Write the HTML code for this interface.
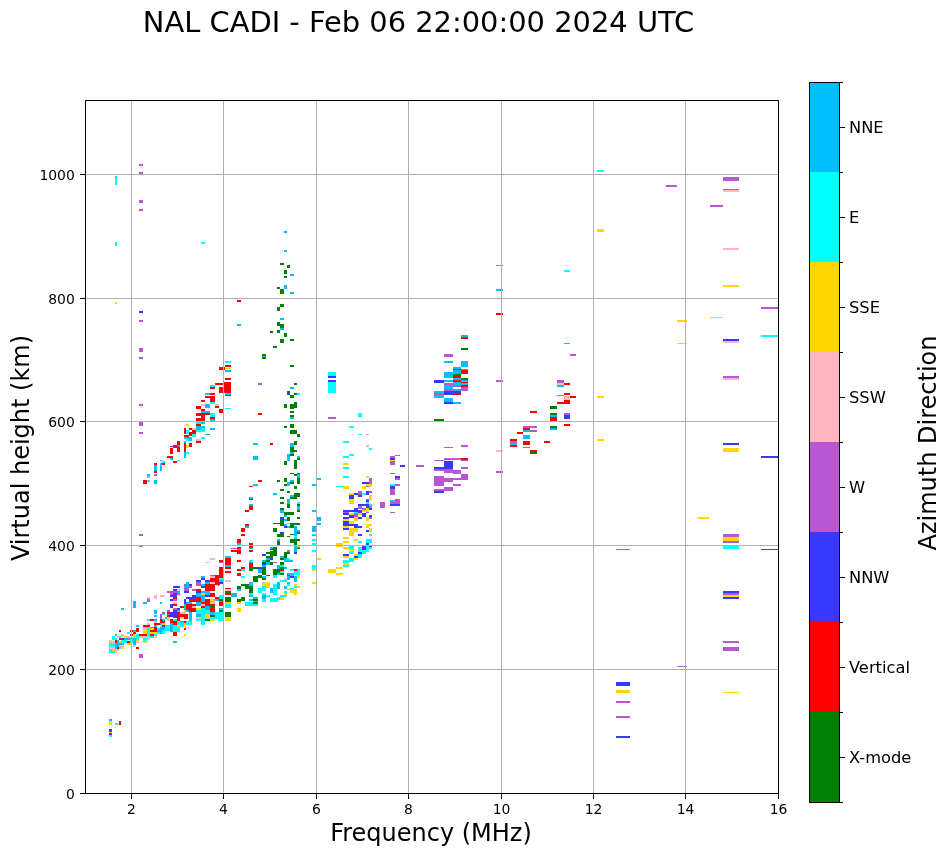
<!DOCTYPE html><html><head><meta charset="utf-8"><style>html,body{margin:0;padding:0;background:#fff;width:951px;height:856px;overflow:hidden}svg{display:block;will-change:transform}text{font-family:'DejaVu Sans', 'Liberation Sans', sans-serif;fill:#000}</style></head><body>
<svg width="951" height="856" viewBox="0 0 951 856" shape-rendering="crispEdges">
<rect x="0" y="0" width="951" height="856" fill="#fff"/>
<path fill="#00bfff" d="M115 176h2v1h-2z"/>
<path fill="#00ffff" d="M115 177h2v8h-2zM115 242h2v4h-2z"/>
<path fill="#ba55d3" d="M139 164h4v2h-4zM139 172h4v2h-4zM139 200h4v3h-4zM139 209h4v2h-4z"/>
<path fill="#ffd700" d="M115 302h2v2h-2z"/>
<path fill="#3838ff" d="M139 311h4v2h-4z"/>
<path fill="#ba55d3" d="M139 320h4v2h-4zM139 348h4v4h-4zM139 357h4v2h-4zM139 404h4v2h-4zM139 422h4v4h-4zM139 432h4v2h-4zM139 534h4v2h-4zM139 546h4v1h-4z"/>
<path fill="#ff0000" d="M143 480h4v4h-4z"/>
<path fill="#00ffff" d="M147 480h3v2h-3z"/>
<path fill="#00bfff" d="M147 474h3v2h-3z"/>
<path fill="#00ffff" d="M147 476h3v2h-3z"/>
<path fill="#00bfff" d="M154 480h3v4h-3z"/>
<path fill="#ba55d3" d="M154 474h3v2h-3z"/>
<path fill="#ff0000" d="M154 471h3v2h-3z"/>
<path fill="#00bfff" d="M154 465h3v6h-3z"/>
<path fill="#ff0000" d="M154 463h3v2h-3z"/>
<path fill="#00bfff" d="M160 466h2v5h-2z"/>
<path fill="#00ffff" d="M160 465h2v1h-2z"/>
<path fill="#00bfff" d="M160 463h2v2h-2zM160 460h2v1h-2z"/>
<path fill="#ff0000" d="M162 463h3v2h-3z"/>
<path fill="#00ffff" d="M162 461h3v2h-3z"/>
<path fill="#ff0000" d="M167 456h6v2h-6z"/>
<path fill="#00bfff" d="M170 458h3v2h-3z"/>
<path fill="#ff0000" d="M173 461h4v2h-4z"/>
<path fill="#00ffff" d="M177 460h3v1h-3z"/>
<path fill="#00bfff" d="M184 454h2v4h-2z"/>
<path fill="#00ffff" d="M225 361h6v2h-6z"/>
<path fill="#ff0000" d="M225 365h6v2h-6zM219 367h6v3h-6z"/>
<path fill="#ffd700" d="M225 368h6v1h-6z"/>
<path fill="#00bfff" d="M225 370h6v2h-6z"/>
<path fill="#ff0000" d="M225 378h6v2h-6zM224 382h7v11h-7zM215 383h8v2h-8zM219 387h4v6h-4z"/>
<path fill="#00bfff" d="M225 393h6v2h-6z"/>
<path fill="#ff0000" d="M225 395h6v1h-6z"/>
<path fill="#00ffff" d="M210 385h5v2h-5z"/>
<path fill="#ff0000" d="M210 387h5v2h-5z"/>
<path fill="#00bfff" d="M205 393h5v2h-5z"/>
<path fill="#ff0000" d="M210 393h5v2h-5zM205 396h5v2h-5zM210 396h5v6h-5zM201 400h4v2h-4z"/>
<path fill="#00ffff" d="M210 402h5v2h-5z"/>
<path fill="#ffb6c1" d="M201 404h4v2h-4z"/>
<path fill="#00bfff" d="M205 404h5v4h-5z"/>
<path fill="#ffb6c1" d="M215 404h4v2h-4z"/>
<path fill="#ff0000" d="M215 406h4v2h-4z"/>
<path fill="#00ffff" d="M225 408h6v1h-6z"/>
<path fill="#ff0000" d="M196 406h5v3h-5zM219 409h5v4h-5zM201 409h4v2h-4z"/>
<path fill="#00bfff" d="M201 411h9v2h-9z"/>
<path fill="#ff0000" d="M196 413h9v3h-9zM201 416h4v2h-4zM196 418h9v3h-9zM205 413h5v2h-5z"/>
<path fill="#00ffff" d="M210 413h5v4h-5z"/>
<path fill="#ff0000" d="M210 417h5v2h-5z"/>
<path fill="#00bfff" d="M210 419h5v2h-5z"/>
<path fill="#00ffff" d="M196 422h5v2h-5z"/>
<path fill="#00bfff" d="M201 422h4v2h-4z"/>
<path fill="#ff0000" d="M196 424h5v2h-5z"/>
<path fill="#ffd700" d="M186 424h3v2h-3z"/>
<path fill="#00bfff" d="M196 426h9v2h-9zM196 428h5v2h-5z"/>
<path fill="#00ffff" d="M201 428h4v2h-4zM196 430h9v2h-9z"/>
<path fill="#ffb6c1" d="M192 428h4v2h-4z"/>
<path fill="#ff0000" d="M189 428h3v2h-3zM184 428h2v6h-2z"/>
<path fill="#00ffff" d="M186 430h3v4h-3z"/>
<path fill="#ff0000" d="M192 430h4v4h-4zM189 432h3v4h-3zM184 435h5v2h-5z"/>
<path fill="#00ffff" d="M192 434h4v3h-4z"/>
<path fill="#00bfff" d="M205 434h5v1h-5zM210 428h5v2h-5zM184 437h8v2h-8z"/>
<path fill="#00ffff" d="M186 439h3v2h-3z"/>
<path fill="#00bfff" d="M189 439h3v2h-3z"/>
<path fill="#00ffff" d="M201 437h4v2h-4z"/>
<path fill="#ffb6c1" d="M196 439h5v2h-5z"/>
<path fill="#ff0000" d="M196 441h5v2h-5z"/>
<path fill="#00bfff" d="M184 441h2v2h-2z"/>
<path fill="#ff0000" d="M177 441h3v4h-3zM184 443h2v9h-2zM189 443h3v4h-3z"/>
<path fill="#ffd700" d="M186 445h3v3h-3z"/>
<path fill="#ff0000" d="M173 445h4v3h-4z"/>
<path fill="#ba55d3" d="M177 445h3v2h-3z"/>
<path fill="#ff0000" d="M177 447h3v5h-3z"/>
<path fill="#3838ff" d="M170 446h3v1h-3z"/>
<path fill="#ff0000" d="M170 448h3v6h-3z"/>
<path fill="#00ffff" d="M186 452h3v2h-3z"/>
<path fill="#00bfff" d="M184 452h2v6h-2zM253 456h5v4h-5zM253 484h5v2h-5z"/>
<path fill="#ff0000" d="M249 486h4v1h-4z"/>
<path fill="#00bfff" d="M249 497h4v2h-4z"/>
<path fill="#ff0000" d="M249 499h4v1h-4z"/>
<path fill="#00bfff" d="M249 504h4v2h-4z"/>
<path fill="#ff0000" d="M249 506h4v4h-4zM245 510h4v2h-4zM245 524h4v2h-4z"/>
<path fill="#00bfff" d="M245 526h4v2h-4z"/>
<path fill="#ff0000" d="M241 528h4v4h-4zM241 534h4v2h-4zM237 539h4v4h-4z"/>
<path fill="#00bfff" d="M237 543h4v2h-4z"/>
<path fill="#ff0000" d="M249 543h4v2h-4zM249 546h4v2h-4z"/>
<path fill="#00bfff" d="M249 548h4v1h-4z"/>
<path fill="#ff0000" d="M249 550h4v2h-4zM237 547h4v2h-4z"/>
<path fill="#00bfff" d="M237 549h4v1h-4z"/>
<path fill="#ff0000" d="M237 550h4v4h-4z"/>
<path fill="#ba55d3" d="M231 548h6v1h-6z"/>
<path fill="#ff0000" d="M231 550h6v2h-6z"/>
<path fill="#008000" d="M290 365h4v2h-4z"/>
<path fill="#ba55d3" d="M258 383h4v2h-4z"/>
<path fill="#008000" d="M294 383h3v2h-3z"/>
<path fill="#00bfff" d="M290 387h4v2h-4z"/>
<path fill="#008000" d="M287 391h3v2h-3z"/>
<path fill="#3838ff" d="M287 393h3v2h-3z"/>
<path fill="#008000" d="M294 393h3v2h-3z"/>
<path fill="#00ffff" d="M297 393h3v2h-3z"/>
<path fill="#008000" d="M290 395h4v3h-4zM284 404h3v4h-3zM294 402h3v6h-3zM290 404h4v5h-4zM290 411h4v2h-4z"/>
<path fill="#ff0000" d="M258 413h4v2h-4z"/>
<path fill="#008000" d="M290 415h4v2h-4z"/>
<path fill="#00bfff" d="M290 417h4v2h-4z"/>
<path fill="#008000" d="M290 424h4v4h-4zM284 426h3v2h-3zM290 430h7v4h-7zM297 434h3v3h-3z"/>
<path fill="#00bfff" d="M253 443h5v2h-5z"/>
<path fill="#ff0000" d="M270 443h3v2h-3z"/>
<path fill="#008000" d="M294 441h3v4h-3z"/>
<path fill="#00bfff" d="M290 443h4v4h-4z"/>
<path fill="#008000" d="M290 447h4v5h-4zM294 450h3v2h-3z"/>
<path fill="#00bfff" d="M290 452h4v2h-4z"/>
<path fill="#008000" d="M290 454h4v2h-4z"/>
<path fill="#00bfff" d="M287 454h3v6h-3zM297 456h3v2h-3z"/>
<path fill="#008000" d="M297 458h3v2h-3z"/>
<path fill="#00bfff" d="M284 231h3v2h-3zM284 250h3v2h-3z"/>
<path fill="#008000" d="M280 263h4v2h-4zM287 265h3v3h-3zM284 270h3v4h-3z"/>
<path fill="#00bfff" d="M290 274h4v2h-4z"/>
<path fill="#008000" d="M284 276h3v2h-3zM277 287h3v2h-3z"/>
<path fill="#00bfff" d="M284 285h3v4h-3z"/>
<path fill="#008000" d="M280 289h4v5h-4z"/>
<path fill="#00bfff" d="M290 292h4v2h-4zM237 298h4v1h-4z"/>
<path fill="#ff0000" d="M237 300h4v2h-4z"/>
<path fill="#008000" d="M280 304h4v3h-4zM277 307h3v4h-3z"/>
<path fill="#00bfff" d="M280 318h4v2h-4zM237 324h4v2h-4z"/>
<path fill="#008000" d="M277 322h3v4h-3zM280 324h4v4h-4z"/>
<path fill="#00bfff" d="M280 328h4v2h-4z"/>
<path fill="#008000" d="M270 331h3v2h-3zM277 330h3v3h-3zM284 333h3v4h-3zM280 339h4v4h-4zM290 339h4v2h-4zM273 346h4v2h-4zM262 354h4v2h-4z"/>
<path fill="#00bfff" d="M262 356h4v1h-4z"/>
<path fill="#008000" d="M262 357h4v2h-4z"/>
<path fill="#00ffff" d="M201 242h4v2h-4z"/>
<path fill="#00bfff" d="M115 634h2v2h-2z"/>
<path fill="#00ffff" d="M112 636h3v3h-3zM112 638h5v2h-5z"/>
<path fill="#ffb6c1" d="M117 636h2v2h-2z"/>
<path fill="#00ffff" d="M119 636h2v2h-2z"/>
<path fill="#ffb6c1" d="M121 634h3v3h-3z"/>
<path fill="#ffd700" d="M124 636h3v2h-3z"/>
<path fill="#ffb6c1" d="M127 636h3v2h-3z"/>
<path fill="#00ffff" d="M127 632h3v2h-3z"/>
<path fill="#ff0000" d="M119 630h2v2h-2zM130 630h3v2h-3zM130 634h3v2h-3z"/>
<path fill="#00bfff" d="M133 630h3v2h-3z"/>
<path fill="#ff0000" d="M133 632h3v2h-3z"/>
<path fill="#ffd700" d="M133 634h3v4h-3z"/>
<path fill="#00ffff" d="M136 634h3v6h-3z"/>
<path fill="#ff0000" d="M136 628h3v4h-3z"/>
<path fill="#00bfff" d="M136 625h3v2h-3z"/>
<path fill="#ffd700" d="M136 640h3v1h-3z"/>
<path fill="#ffb6c1" d="M136 641h3v2h-3z"/>
<path fill="#00bfff" d="M133 638h3v7h-3z"/>
<path fill="#ff0000" d="M136 647h3v2h-3z"/>
<path fill="#ffb6c1" d="M133 645h3v2h-3z"/>
<path fill="#00ffff" d="M130 637h3v6h-3z"/>
<path fill="#ba55d3" d="M127 638h3v2h-3z"/>
<path fill="#00bfff" d="M124 638h3v2h-3z"/>
<path fill="#3838ff" d="M121 638h3v2h-3z"/>
<path fill="#ff0000" d="M119 638h2v2h-2z"/>
<path fill="#00ffff" d="M124 640h3v3h-3z"/>
<path fill="#ff0000" d="M127 641h3v2h-3z"/>
<path fill="#ffd700" d="M127 643h4v2h-4z"/>
<path fill="#00bfff" d="M117 640h2v3h-2z"/>
<path fill="#ffd700" d="M119 641h2v2h-2z"/>
<path fill="#00ffff" d="M121 640h3v3h-3z"/>
<path fill="#ff0000" d="M115 640h2v3h-2z"/>
<path fill="#ffb6c1" d="M112 641h3v3h-3z"/>
<path fill="#ffd700" d="M109 641h3v2h-3z"/>
<path fill="#ffb6c1" d="M109 640h3v1h-3z"/>
<path fill="#00ffff" d="M109 643h3v4h-3zM112 644h3v3h-3z"/>
<path fill="#00bfff" d="M115 643h9v2h-9zM115 645h4v2h-4z"/>
<path fill="#ffb6c1" d="M119 645h5v2h-5zM109 647h6v2h-6z"/>
<path fill="#00bfff" d="M115 647h2v2h-2z"/>
<path fill="#ff0000" d="M117 647h2v2h-2z"/>
<path fill="#00ffff" d="M119 647h2v2h-2z"/>
<path fill="#ffd700" d="M121 647h3v2h-3z"/>
<path fill="#00ffff" d="M109 649h3v4h-3z"/>
<path fill="#ffd700" d="M112 649h3v2h-3z"/>
<path fill="#00ffff" d="M112 651h3v2h-3z"/>
<path fill="#ffb6c1" d="M115 649h4v2h-4z"/>
<path fill="#ffd700" d="M115 651h2v2h-2z"/>
<path fill="#ba55d3" d="M139 654h4v4h-4z"/>
<path fill="#00bfff" d="M121 608h3v2h-3zM133 601h3v7h-3zM143 602h4v2h-4z"/>
<path fill="#ba55d3" d="M147 600h3v2h-3z"/>
<path fill="#00bfff" d="M154 610h3v4h-3zM154 615h3v2h-3z"/>
<path fill="#00ffff" d="M147 619h3v2h-3z"/>
<path fill="#ff0000" d="M150 619h4v2h-4z"/>
<path fill="#00bfff" d="M154 619h3v2h-3z"/>
<path fill="#ffb6c1" d="M154 621h3v2h-3zM147 623h3v2h-3z"/>
<path fill="#ff0000" d="M143 625h7v2h-7z"/>
<path fill="#00bfff" d="M154 625h3v2h-3z"/>
<path fill="#ff0000" d="M154 623h6v2h-6z"/>
<path fill="#00ffff" d="M143 627h4v2h-4z"/>
<path fill="#ffb6c1" d="M143 628h4v2h-4z"/>
<path fill="#00ffff" d="M147 627h3v10h-3z"/>
<path fill="#ffd700" d="M143 630h4v4h-4zM150 628h4v2h-4z"/>
<path fill="#ff0000" d="M154 627h3v5h-3zM150 630h7v2h-7z"/>
<path fill="#00bfff" d="M150 627h4v1h-4z"/>
<path fill="#ffd700" d="M150 632h7v2h-7z"/>
<path fill="#00ffff" d="M157 628h3v6h-3z"/>
<path fill="#00bfff" d="M157 630h3v2h-3z"/>
<path fill="#ff0000" d="M139 634h8v2h-8z"/>
<path fill="#ffd700" d="M143 632h4v2h-4z"/>
<path fill="#ff0000" d="M150 634h4v2h-4z"/>
<path fill="#00ffff" d="M154 634h3v2h-3z"/>
<path fill="#ffb6c1" d="M139 636h8v2h-8zM147 637h3v3h-3z"/>
<path fill="#00ffff" d="M150 636h4v2h-4z"/>
<path fill="#ffb6c1" d="M154 636h3v2h-3z"/>
<path fill="#00ffff" d="M143 638h4v3h-4z"/>
<path fill="#ffd700" d="M143 641h4v2h-4z"/>
<path fill="#ffb6c1" d="M160 595h5v2h-5z"/>
<path fill="#00bfff" d="M160 602h2v2h-2z"/>
<path fill="#ba55d3" d="M160 614h2v5h-2z"/>
<path fill="#ff0000" d="M160 619h2v4h-2z"/>
<path fill="#00bfff" d="M160 623h2v2h-2z"/>
<path fill="#ffb6c1" d="M160 625h2v2h-2z"/>
<path fill="#00bfff" d="M160 627h2v7h-2z"/>
<path fill="#ba55d3" d="M162 612h3v2h-3z"/>
<path fill="#00ffff" d="M162 614h3v1h-3z"/>
<path fill="#00bfff" d="M162 619h3v2h-3z"/>
<path fill="#ff0000" d="M162 621h3v2h-3z"/>
<path fill="#ffd700" d="M162 623h3v2h-3z"/>
<path fill="#3838ff" d="M162 625h3v2h-3z"/>
<path fill="#00bfff" d="M162 627h3v3h-3z"/>
<path fill="#00ffff" d="M162 630h3v4h-3z"/>
<path fill="#00bfff" d="M165 617h2v2h-2z"/>
<path fill="#ba55d3" d="M167 610h3v2h-3z"/>
<path fill="#ff0000" d="M167 612h3v2h-3z"/>
<path fill="#ba55d3" d="M167 614h3v1h-3z"/>
<path fill="#ff0000" d="M167 615h3v2h-3z"/>
<path fill="#ffd700" d="M167 617h3v2h-3z"/>
<path fill="#ffb6c1" d="M167 619h3v2h-3z"/>
<path fill="#00ffff" d="M165 625h5v6h-5z"/>
<path fill="#00bfff" d="M170 623h3v9h-3z"/>
<path fill="#3838ff" d="M173 586h7v2h-7z"/>
<path fill="#ba55d3" d="M167 591h10v2h-10z"/>
<path fill="#3838ff" d="M173 589h4v2h-4z"/>
<path fill="#ffb6c1" d="M177 589h3v2h-3z"/>
<path fill="#00bfff" d="M177 591h3v2h-3z"/>
<path fill="#ba55d3" d="M177 593h3v2h-3z"/>
<path fill="#3838ff" d="M173 593h4v4h-4z"/>
<path fill="#ba55d3" d="M170 593h3v2h-3z"/>
<path fill="#3838ff" d="M170 595h3v2h-3z"/>
<path fill="#ff0000" d="M173 597h4v2h-4z"/>
<path fill="#3838ff" d="M170 599h3v2h-3z"/>
<path fill="#ba55d3" d="M173 599h4v2h-4z"/>
<path fill="#ffb6c1" d="M173 602h4v2h-4z"/>
<path fill="#3838ff" d="M170 604h3v4h-3z"/>
<path fill="#ff0000" d="M173 604h4v2h-4z"/>
<path fill="#ba55d3" d="M173 608h4v2h-4z"/>
<path fill="#3838ff" d="M173 610h4v8h-4zM170 612h3v5h-3zM177 608h3v2h-3z"/>
<path fill="#00bfff" d="M177 610h3v2h-3z"/>
<path fill="#ff0000" d="M177 612h3v2h-3z"/>
<path fill="#00ffff" d="M173 619h4v2h-4z"/>
<path fill="#ff0000" d="M170 619h3v4h-3zM173 621h4v4h-4z"/>
<path fill="#00ffff" d="M173 625h7v7h-7z"/>
<path fill="#ff0000" d="M173 632h4v4h-4z"/>
<path fill="#00bfff" d="M173 641h4v2h-4z"/>
<path fill="#ff0000" d="M177 614h11v5h-11z"/>
<path fill="#ffb6c1" d="M180 617h4v2h-4z"/>
<path fill="#ff0000" d="M177 619h3v2h-3z"/>
<path fill="#00ffff" d="M177 621h7v6h-7z"/>
<path fill="#ffd700" d="M177 625h3v2h-3z"/>
<path fill="#00bfff" d="M180 621h4v2h-4z"/>
<path fill="#ff0000" d="M180 606h4v2h-4z"/>
<path fill="#ffb6c1" d="M180 612h6v2h-6z"/>
<path fill="#ff0000" d="M184 621h2v2h-2z"/>
<path fill="#ffd700" d="M184 623h2v4h-2zM186 627h3v1h-3z"/>
<path fill="#ff0000" d="M184 628h2v2h-2z"/>
<path fill="#ffd700" d="M184 634h2v2h-2z"/>
<path fill="#ba55d3" d="M184 584h2v2h-2z"/>
<path fill="#00bfff" d="M184 586h5v2h-5z"/>
<path fill="#ba55d3" d="M184 588h5v3h-5z"/>
<path fill="#3838ff" d="M184 591h5v2h-5zM184 599h2v5h-2z"/>
<path fill="#00bfff" d="M184 604h2v6h-2z"/>
<path fill="#ffd700" d="M184 610h2v2h-2z"/>
<path fill="#00bfff" d="M186 582h3v4h-3z"/>
<path fill="#ba55d3" d="M189 584h3v4h-3z"/>
<path fill="#3838ff" d="M189 584h3v2h-3zM186 597h10v2h-10zM192 595h4v2h-4z"/>
<path fill="#ba55d3" d="M192 589h4v2h-4z"/>
<path fill="#00bfff" d="M186 602h6v2h-6z"/>
<path fill="#ff0000" d="M189 599h7v3h-7zM186 604h10v8h-10z"/>
<path fill="#00bfff" d="M186 610h3v2h-3zM189 612h3v9h-3z"/>
<path fill="#ffb6c1" d="M192 606h4v2h-4z"/>
<path fill="#00ffff" d="M186 621h6v4h-6z"/>
<path fill="#ff0000" d="M196 589h5v2h-5z"/>
<path fill="#3838ff" d="M196 591h5v2h-5z"/>
<path fill="#00bfff" d="M196 593h5v4h-5z"/>
<path fill="#ff0000" d="M196 597h5v5h-5z"/>
<path fill="#00bfff" d="M196 602h5v4h-5z"/>
<path fill="#ffd700" d="M196 608h5v2h-5z"/>
<path fill="#00ffff" d="M196 610h5v4h-5z"/>
<path fill="#00bfff" d="M196 614h5v3h-5z"/>
<path fill="#ffb6c1" d="M196 617h5v2h-5z"/>
<path fill="#00ffff" d="M196 619h5v2h-5z"/>
<path fill="#ba55d3" d="M196 582h5v4h-5z"/>
<path fill="#3838ff" d="M196 580h5v2h-5z"/>
<path fill="#00bfff" d="M201 584h4v2h-4z"/>
<path fill="#3838ff" d="M201 586h4v2h-4z"/>
<path fill="#00bfff" d="M201 591h4v2h-4z"/>
<path fill="#ffd700" d="M201 593h4v2h-4z"/>
<path fill="#00bfff" d="M201 595h4v7h-4z"/>
<path fill="#ff0000" d="M201 602h4v2h-4z"/>
<path fill="#ffb6c1" d="M201 604h4v2h-4z"/>
<path fill="#ff0000" d="M201 606h4v2h-4z"/>
<path fill="#00ffff" d="M201 608h4v9h-4zM201 617h4v8h-4z"/>
<path fill="#3838ff" d="M205 580h5v2h-5z"/>
<path fill="#00bfff" d="M205 582h5v2h-5z"/>
<path fill="#ff0000" d="M205 584h5v7h-5z"/>
<path fill="#00bfff" d="M205 591h5v4h-5z"/>
<path fill="#3838ff" d="M205 595h5v2h-5z"/>
<path fill="#ff0000" d="M205 599h5v7h-5z"/>
<path fill="#00bfff" d="M205 606h5v4h-5z"/>
<path fill="#00ffff" d="M205 610h5v4h-5z"/>
<path fill="#ffd700" d="M205 614h5v3h-5z"/>
<path fill="#ffb6c1" d="M205 617h5v2h-5z"/>
<path fill="#008000" d="M205 619h5v2h-5z"/>
<path fill="#ff0000" d="M210 580h5v2h-5z"/>
<path fill="#ffb6c1" d="M210 582h5v2h-5z"/>
<path fill="#ff0000" d="M210 584h5v7h-5zM210 593h5v4h-5z"/>
<path fill="#ffd700" d="M210 599h5v2h-5z"/>
<path fill="#00ffff" d="M210 601h5v1h-5z"/>
<path fill="#ffb6c1" d="M210 602h5v2h-5z"/>
<path fill="#ff0000" d="M210 604h5v2h-5z"/>
<path fill="#008000" d="M210 606h5v2h-5z"/>
<path fill="#ff0000" d="M210 608h5v4h-5z"/>
<path fill="#00bfff" d="M210 612h5v3h-5z"/>
<path fill="#008000" d="M210 615h5v2h-5z"/>
<path fill="#00ffff" d="M210 617h5v2h-5z"/>
<path fill="#ffd700" d="M210 619h5v2h-5z"/>
<path fill="#ff0000" d="M215 580h5v5h-5zM215 597h4v2h-4z"/>
<path fill="#00bfff" d="M215 599h4v2h-4z"/>
<path fill="#00ffff" d="M215 612h5v7h-5z"/>
<path fill="#ff0000" d="M219 560h4v2h-4z"/>
<path fill="#ba55d3" d="M219 562h4v1h-4z"/>
<path fill="#ff0000" d="M219 567h4v11h-4z"/>
<path fill="#00ffff" d="M219 578h4v2h-4z"/>
<path fill="#00bfff" d="M219 580h4v2h-4z"/>
<path fill="#3838ff" d="M219 582h4v2h-4z"/>
<path fill="#ff0000" d="M218 578h1v8h-1z"/>
<path fill="#00ffff" d="M219 595h4v4h-4z"/>
<path fill="#008000" d="M219 599h4v2h-4z"/>
<path fill="#ba55d3" d="M219 601h4v1h-4z"/>
<path fill="#ff0000" d="M219 602h4v4h-4z"/>
<path fill="#00bfff" d="M219 608h4v2h-4z"/>
<path fill="#008000" d="M219 610h4v2h-4z"/>
<path fill="#00ffff" d="M218 612h5v9h-5z"/>
<path fill="#ff0000" d="M225 560h6v5h-6z"/>
<path fill="#00bfff" d="M225 565h6v2h-6z"/>
<path fill="#ff0000" d="M225 567h6v2h-6zM225 571h6v2h-6z"/>
<path fill="#ffb6c1" d="M225 580h6v2h-6z"/>
<path fill="#ff0000" d="M225 588h6v1h-6z"/>
<path fill="#ffb6c1" d="M225 589h6v2h-6z"/>
<path fill="#008000" d="M225 591h6v2h-6z"/>
<path fill="#ff0000" d="M225 593h6v2h-6z"/>
<path fill="#008000" d="M225 597h6v5h-6z"/>
<path fill="#ffd700" d="M225 602h6v2h-6z"/>
<path fill="#00ffff" d="M225 604h6v4h-6z"/>
<path fill="#008000" d="M225 612h6v5h-6z"/>
<path fill="#ffd700" d="M225 617h6v4h-6z"/>
<path fill="#00bfff" d="M231 593h6v4h-6z"/>
<path fill="#ff0000" d="M237 560h4v2h-4zM237 569h4v2h-4zM237 573h4v3h-4z"/>
<path fill="#008000" d="M237 586h4v3h-4z"/>
<path fill="#00bfff" d="M237 589h4v2h-4z"/>
<path fill="#008000" d="M237 599h4v3h-4z"/>
<path fill="#ffd700" d="M237 602h4v2h-4zM237 608h4v4h-4z"/>
<path fill="#ff0000" d="M241 567h4v2h-4z"/>
<path fill="#00ffff" d="M241 569h4v2h-4zM241 576h4v2h-4z"/>
<path fill="#008000" d="M241 584h8v2h-8zM241 597h4v4h-4zM245 586h4v3h-4zM249 586h4v7h-4z"/>
<path fill="#00ffff" d="M245 602h13v4h-13zM249 560h4v2h-4z"/>
<path fill="#00bfff" d="M249 562h4v1h-4z"/>
<path fill="#ff0000" d="M249 563h4v4h-4z"/>
<path fill="#008000" d="M249 567h4v4h-4z"/>
<path fill="#00bfff" d="M249 582h4v4h-4z"/>
<path fill="#00ffff" d="M249 593h4v2h-4z"/>
<path fill="#00bfff" d="M249 595h4v2h-4zM249 599h4v2h-4z"/>
<path fill="#008000" d="M253 567h5v2h-5zM253 576h5v6h-5z"/>
<path fill="#00bfff" d="M253 597h5v2h-5z"/>
<path fill="#008000" d="M253 599h5v2h-5z"/>
<path fill="#00bfff" d="M253 601h5v1h-5z"/>
<path fill="#008000" d="M253 602h5v2h-5z"/>
<path fill="#3838ff" d="M258 567h4v2h-4z"/>
<path fill="#00bfff" d="M258 569h4v4h-4z"/>
<path fill="#008000" d="M258 575h4v3h-4z"/>
<path fill="#00ffff" d="M258 588h4v5h-4z"/>
<path fill="#00bfff" d="M262 560h4v2h-4z"/>
<path fill="#3838ff" d="M262 563h4v2h-4z"/>
<path fill="#00bfff" d="M262 565h4v2h-4z"/>
<path fill="#008000" d="M262 567h4v8h-4z"/>
<path fill="#00bfff" d="M262 576h4v2h-4z"/>
<path fill="#008000" d="M262 578h4v2h-4z"/>
<path fill="#ffb6c1" d="M262 582h4v2h-4z"/>
<path fill="#ffd700" d="M262 584h4v2h-4z"/>
<path fill="#00ffff" d="M262 586h4v5h-4zM262 593h4v2h-4z"/>
<path fill="#00bfff" d="M262 595h4v4h-4z"/>
<path fill="#00ffff" d="M262 599h4v3h-4z"/>
<path fill="#008000" d="M266 560h4v2h-4z"/>
<path fill="#00bfff" d="M266 562h4v3h-4z"/>
<path fill="#008000" d="M266 575h4v1h-4z"/>
<path fill="#ffd700" d="M266 582h4v6h-4z"/>
<path fill="#00ffff" d="M266 595h4v2h-4z"/>
<path fill="#008000" d="M270 562h3v3h-3z"/>
<path fill="#ba55d3" d="M273 562h3v1h-3z"/>
<path fill="#00bfff" d="M270 588h3v5h-3z"/>
<path fill="#00ffff" d="M273 590h4v5h-4zM273 584h5v4h-5zM270 599h8v3h-8zM273 575h4v3h-4z"/>
<path fill="#008000" d="M273 569h5v6h-5z"/>
<path fill="#00bfff" d="M277 565h1v9h-1z"/>
<path fill="#008000" d="M280 520h4v6h-4zM273 523h7v1h-7z"/>
<path fill="#00bfff" d="M284 520h3v1h-3z"/>
<path fill="#008000" d="M287 520h3v1h-3z"/>
<path fill="#00bfff" d="M284 524h3v2h-3z"/>
<path fill="#3838ff" d="M284 526h3v2h-3z"/>
<path fill="#00bfff" d="M287 526h3v2h-3z"/>
<path fill="#00ffff" d="M287 523h3v1h-3z"/>
<path fill="#008000" d="M290 524h4v4h-4zM294 523h6v2h-6z"/>
<path fill="#3838ff" d="M294 523h3v1h-3z"/>
<path fill="#00bfff" d="M294 526h3v13h-3zM297 530h3v2h-3z"/>
<path fill="#008000" d="M297 532h3v2h-3zM273 528h4v4h-4z"/>
<path fill="#3838ff" d="M280 532h4v2h-4z"/>
<path fill="#008000" d="M277 534h7v3h-7zM287 536h3v1h-3zM290 534h4v1h-4z"/>
<path fill="#00ffff" d="M294 536h3v2h-3z"/>
<path fill="#00bfff" d="M277 539h3v2h-3z"/>
<path fill="#008000" d="M277 541h3v2h-3z"/>
<path fill="#3838ff" d="M277 543h3v2h-3z"/>
<path fill="#008000" d="M290 539h4v4h-4zM294 539h6v2h-6zM294 541h3v4h-3z"/>
<path fill="#00bfff" d="M294 546h3v6h-3z"/>
<path fill="#ffd700" d="M297 546h3v1h-3z"/>
<path fill="#00bfff" d="M297 547h3v2h-3z"/>
<path fill="#008000" d="M297 548h3v1h-3z"/>
<path fill="#3838ff" d="M294 552h3v2h-3z"/>
<path fill="#00bfff" d="M270 547h3v1h-3z"/>
<path fill="#008000" d="M273 547h4v9h-4zM270 551h3v6h-3z"/>
<path fill="#3838ff" d="M270 558h3v2h-3z"/>
<path fill="#ba55d3" d="M287 550h3v2h-3z"/>
<path fill="#008000" d="M284 552h6v2h-6zM284 554h3v4h-3z"/>
<path fill="#00bfff" d="M280 556h4v2h-4z"/>
<path fill="#008000" d="M280 558h4v2h-4z"/>
<path fill="#00bfff" d="M284 558h3v2h-3z"/>
<path fill="#00ffff" d="M287 558h3v2h-3z"/>
<path fill="#00bfff" d="M284 560h9v2h-9z"/>
<path fill="#ba55d3" d="M273 562h4v1h-4z"/>
<path fill="#008000" d="M270 562h3v3h-3zM280 562h4v3h-4z"/>
<path fill="#00bfff" d="M277 565h3v4h-3z"/>
<path fill="#00ffff" d="M280 565h4v2h-4z"/>
<path fill="#008000" d="M280 567h4v2h-4z"/>
<path fill="#00bfff" d="M284 567h3v2h-3z"/>
<path fill="#008000" d="M273 569h7v6h-7z"/>
<path fill="#ff0000" d="M280 569h4v2h-4z"/>
<path fill="#00ffff" d="M280 571h4v2h-4z"/>
<path fill="#00bfff" d="M277 573h3v2h-3z"/>
<path fill="#008000" d="M280 573h4v2h-4z"/>
<path fill="#00ffff" d="M273 575h4v3h-4zM290 569h4v2h-4z"/>
<path fill="#ff0000" d="M294 569h3v2h-3z"/>
<path fill="#00ffff" d="M297 569h3v2h-3z"/>
<path fill="#00bfff" d="M287 573h7v4h-7z"/>
<path fill="#00ffff" d="M294 571h6v4h-6z"/>
<path fill="#008000" d="M287 575h3v1h-3z"/>
<path fill="#3838ff" d="M290 576h4v2h-4z"/>
<path fill="#ffd700" d="M297 575h3v3h-3z"/>
<path fill="#00bfff" d="M287 576h3v4h-3zM294 576h3v6h-3z"/>
<path fill="#ffb6c1" d="M284 578h3v2h-3z"/>
<path fill="#00ffff" d="M280 580h7v2h-7z"/>
<path fill="#00bfff" d="M287 582h3v2h-3z"/>
<path fill="#00ffff" d="M287 584h3v2h-3z"/>
<path fill="#00bfff" d="M277 582h3v7h-3z"/>
<path fill="#00ffff" d="M273 584h4v5h-4z"/>
<path fill="#00bfff" d="M270 588h3v4h-3z"/>
<path fill="#00ffff" d="M273 589h4v4h-4z"/>
<path fill="#00bfff" d="M284 586h3v3h-3z"/>
<path fill="#00ffff" d="M287 589h3v1h-3z"/>
<path fill="#ffd700" d="M294 584h3v2h-3zM297 586h3v2h-3z"/>
<path fill="#00ffff" d="M294 586h3v2h-3zM290 588h4v1h-4z"/>
<path fill="#ffd700" d="M290 589h7v4h-7zM294 593h3v2h-3z"/>
<path fill="#00ffff" d="M284 591h3v2h-3z"/>
<path fill="#ffd700" d="M284 593h3v2h-3z"/>
<path fill="#00ffff" d="M280 595h7v2h-7zM277 597h3v3h-3z"/>
<path fill="#ffd700" d="M280 597h4v3h-4z"/>
<path fill="#00ffff" d="M270 598h7v2h-7z"/>
<path fill="#00bfff" d="M312 526h4v6h-4z"/>
<path fill="#00ffff" d="M312 534h4v1h-4z"/>
<path fill="#00bfff" d="M312 535h4v1h-4z"/>
<path fill="#00ffff" d="M312 539h4v2h-4zM312 543h4v2h-4zM312 550h4v2h-4zM312 565h4v4h-4z"/>
<path fill="#ffd700" d="M312 569h4v2h-4zM312 582h4v2h-4z"/>
<path fill="#00bfff" d="M317 520h4v1h-4zM317 523h4v2h-4z"/>
<path fill="#ffd700" d="M317 558h4v2h-4zM328 569h2v4h-2z"/>
<path fill="#00bfff" d="M287 455h3v6h-3z"/>
<path fill="#008000" d="M290 455h4v1h-4z"/>
<path fill="#00bfff" d="M297 456h3v2h-3z"/>
<path fill="#008000" d="M297 458h3v2h-3zM284 461h3v4h-3zM294 460h3v9h-3zM290 473h4v1h-4zM297 473h3v1h-3zM294 474h3v2h-3z"/>
<path fill="#00bfff" d="M297 474h3v4h-3z"/>
<path fill="#008000" d="M277 480h3v2h-3zM284 478h3v4h-3z"/>
<path fill="#00bfff" d="M290 480h4v2h-4z"/>
<path fill="#008000" d="M297 478h3v6h-3z"/>
<path fill="#00bfff" d="M287 482h3v4h-3z"/>
<path fill="#008000" d="M290 482h4v2h-4zM284 484h3v2h-3z"/>
<path fill="#00bfff" d="M312 484h4v2h-4zM317 478h4v2h-4z"/>
<path fill="#00ffff" d="M336 486h2v1h-2z"/>
<path fill="#008000" d="M294 486h3v3h-3zM280 489h4v2h-4zM287 491h3v2h-3z"/>
<path fill="#00bfff" d="M273 493h4v2h-4z"/>
<path fill="#008000" d="M294 493h6v4h-6z"/>
<path fill="#00bfff" d="M290 495h4v2h-4z"/>
<path fill="#008000" d="M290 497h7v2h-7zM280 497h4v2h-4z"/>
<path fill="#00bfff" d="M287 499h3v5h-3z"/>
<path fill="#008000" d="M280 502h4v2h-4z"/>
<path fill="#00ffff" d="M297 502h3v2h-3z"/>
<path fill="#008000" d="M297 504h3v2h-3zM287 504h3v4h-3z"/>
<path fill="#00bfff" d="M297 506h3v4h-3z"/>
<path fill="#008000" d="M280 508h4v2h-4zM297 510h3v2h-3z"/>
<path fill="#00bfff" d="M280 510h4v3h-4zM312 510h4v2h-4z"/>
<path fill="#008000" d="M284 512h10v3h-10z"/>
<path fill="#00bfff" d="M284 515h3v2h-3z"/>
<path fill="#3838ff" d="M280 517h4v2h-4z"/>
<path fill="#008000" d="M287 517h3v4h-3zM297 517h3v2h-3z"/>
<path fill="#00bfff" d="M317 517h4v4h-4z"/>
<path fill="#008000" d="M280 519h4v6h-4z"/>
<path fill="#00bfff" d="M284 519h3v2h-3z"/>
<path fill="#008000" d="M290 523h10v2h-10z"/>
<path fill="#3838ff" d="M294 523h3v1h-3zM328 380h8v2h-8z"/>
<path fill="#00ffff" d="M328 382h8v11h-8z"/>
<path fill="#ba55d3" d="M328 417h8v2h-8z"/>
<path fill="#00ffff" d="M358 413h4v4h-4zM349 426h5v2h-5zM358 434h4v1h-4z"/>
<path fill="#ffb6c1" d="M366 434h3v1h-3z"/>
<path fill="#00ffff" d="M343 441h6v2h-6z"/>
<path fill="#ffb6c1" d="M366 445h3v2h-3z"/>
<path fill="#00ffff" d="M369 448h3v2h-3zM349 454h5v2h-5zM343 456h6v2h-6zM328 372h8v4h-8z"/>
<path fill="#3838ff" d="M328 376h8v2h-8z"/>
<path fill="#00ffff" d="M349 455h5v1h-5z"/>
<path fill="#ffd700" d="M343 463h6v2h-6z"/>
<path fill="#00ffff" d="M343 467h6v2h-6zM343 476h6v2h-6zM336 486h7v1h-7z"/>
<path fill="#ffd700" d="M343 486h6v3h-6zM366 476h3v2h-3z"/>
<path fill="#ba55d3" d="M369 478h3v6h-3z"/>
<path fill="#3838ff" d="M362 482h7v2h-7z"/>
<path fill="#ffd700" d="M366 484h6v3h-6z"/>
<path fill="#ba55d3" d="M366 486h3v1h-3z"/>
<path fill="#ffd700" d="M362 486h4v3h-4z"/>
<path fill="#ba55d3" d="M358 491h4v4h-4z"/>
<path fill="#3838ff" d="M366 491h3v4h-3z"/>
<path fill="#ba55d3" d="M369 491h3v2h-3z"/>
<path fill="#00ffff" d="M362 493h4v2h-4z"/>
<path fill="#ffd700" d="M349 493h5v2h-5z"/>
<path fill="#3838ff" d="M354 493h4v2h-4zM358 495h4v2h-4zM349 495h5v4h-5z"/>
<path fill="#ffd700" d="M369 495h3v5h-3zM349 499h5v5h-5z"/>
<path fill="#ba55d3" d="M366 499h3v1h-3z"/>
<path fill="#3838ff" d="M366 500h3v2h-3z"/>
<path fill="#00ffff" d="M366 502h3v2h-3z"/>
<path fill="#3838ff" d="M358 504h11v2h-11z"/>
<path fill="#00ffff" d="M369 504h3v2h-3z"/>
<path fill="#ba55d3" d="M369 506h3v2h-3z"/>
<path fill="#3838ff" d="M366 506h3v2h-3z"/>
<path fill="#ba55d3" d="M358 506h4v3h-4zM362 508h4v2h-4z"/>
<path fill="#ffd700" d="M366 508h3v3h-3z"/>
<path fill="#3838ff" d="M369 508h3v2h-3zM354 508h4v2h-4zM343 510h19v2h-19z"/>
<path fill="#ffd700" d="M362 510h7v2h-7z"/>
<path fill="#ba55d3" d="M343 512h6v1h-6z"/>
<path fill="#00ffff" d="M354 512h4v1h-4z"/>
<path fill="#3838ff" d="M358 512h4v1h-4z"/>
<path fill="#ba55d3" d="M366 512h3v1h-3z"/>
<path fill="#3838ff" d="M343 513h6v2h-6z"/>
<path fill="#ffd700" d="M349 513h5v2h-5z"/>
<path fill="#ba55d3" d="M354 513h4v4h-4z"/>
<path fill="#ffd700" d="M358 513h4v2h-4z"/>
<path fill="#3838ff" d="M362 513h4v4h-4zM349 515h5v3h-5zM369 515h3v2h-3zM343 517h6v2h-6zM358 517h4v2h-4z"/>
<path fill="#ffd700" d="M354 517h4v4h-4z"/>
<path fill="#ba55d3" d="M369 517h3v2h-3z"/>
<path fill="#ffd700" d="M366 517h3v4h-3zM343 519h6v2h-6z"/>
<path fill="#3838ff" d="M343 521h6v4h-6z"/>
<path fill="#ffd700" d="M349 521h5v3h-5z"/>
<path fill="#3838ff" d="M349 524h9v1h-9z"/>
<path fill="#ffd700" d="M366 524h6v1h-6z"/>
<path fill="#ba55d3" d="M380 502h5v6h-5zM395 455h5v1h-5zM390 456h5v2h-5z"/>
<path fill="#3838ff" d="M390 458h5v2h-5z"/>
<path fill="#ffd700" d="M390 460h5v1h-5z"/>
<path fill="#ba55d3" d="M390 461h5v4h-5z"/>
<path fill="#3838ff" d="M400 465h5v2h-5z"/>
<path fill="#ba55d3" d="M390 473h5v1h-5z"/>
<path fill="#3838ff" d="M395 476h5v2h-5z"/>
<path fill="#ba55d3" d="M395 478h5v2h-5z"/>
<path fill="#00ffff" d="M390 484h5v2h-5z"/>
<path fill="#ba55d3" d="M395 484h5v2h-5z"/>
<path fill="#3838ff" d="M390 486h5v3h-5z"/>
<path fill="#ba55d3" d="M390 489h5v6h-5zM395 499h5v3h-5z"/>
<path fill="#00bfff" d="M390 500h5v2h-5z"/>
<path fill="#ba55d3" d="M390 502h10v2h-10z"/>
<path fill="#3838ff" d="M390 504h10v2h-10z"/>
<path fill="#ba55d3" d="M390 512h5v1h-5z"/>
<path fill="#ffd700" d="M354 520h4v1h-4zM366 520h3v1h-3z"/>
<path fill="#3838ff" d="M343 521h6v5h-6zM349 524h9v2h-9zM354 526h8v2h-8z"/>
<path fill="#ffd700" d="M343 526h6v2h-6zM366 524h6v2h-6zM366 526h3v2h-3z"/>
<path fill="#3838ff" d="M343 528h6v2h-6z"/>
<path fill="#ffd700" d="M349 528h9v4h-9zM349 532h5v4h-5zM369 528h3v4h-3z"/>
<path fill="#3838ff" d="M366 530h3v2h-3zM358 534h4v2h-4z"/>
<path fill="#00ffff" d="M369 534h3v2h-3z"/>
<path fill="#ffd700" d="M343 537h6v2h-6zM354 539h4v2h-4z"/>
<path fill="#00ffff" d="M366 539h6v4h-6zM358 541h4v2h-4z"/>
<path fill="#ffd700" d="M343 541h6v2h-6zM336 543h7v4h-7z"/>
<path fill="#3838ff" d="M366 543h3v2h-3z"/>
<path fill="#ffd700" d="M343 547h6v2h-6z"/>
<path fill="#00ffff" d="M349 546h5v3h-5zM358 547h4v5h-4z"/>
<path fill="#3838ff" d="M362 546h4v4h-4z"/>
<path fill="#00ffff" d="M366 546h3v6h-3z"/>
<path fill="#3838ff" d="M369 546h3v1h-3z"/>
<path fill="#00ffff" d="M369 547h3v2h-3zM362 550h4v4h-4z"/>
<path fill="#ffd700" d="M349 549h5v3h-5z"/>
<path fill="#00ffff" d="M349 552h5v2h-5z"/>
<path fill="#3838ff" d="M358 552h4v2h-4zM343 554h6v2h-6z"/>
<path fill="#ffd700" d="M354 554h4v2h-4z"/>
<path fill="#00ffff" d="M358 554h4v4h-4z"/>
<path fill="#ffd700" d="M343 556h6v2h-6z"/>
<path fill="#3838ff" d="M354 556h4v2h-4z"/>
<path fill="#ffd700" d="M354 558h4v2h-4z"/>
<path fill="#00ffff" d="M349 558h5v4h-5zM343 560h6v3h-6z"/>
<path fill="#ffd700" d="M343 563h6v2h-6z"/>
<path fill="#00ffff" d="M343 565h6v2h-6z"/>
<path fill="#ffd700" d="M336 567h7v2h-7zM328 569h8v4h-8zM336 573h7v2h-7z"/>
<path fill="#ffb6c1" d="M210 558h5v2h-5zM205 562h5v1h-5z"/>
<path fill="#00bfff" d="M225 556h6v2h-6z"/>
<path fill="#ff0000" d="M225 558h6v7h-6zM215 575h4v5h-4z"/>
<path fill="#ba55d3" d="M210 575h5v1h-5z"/>
<path fill="#ffb6c1" d="M210 576h5v2h-5z"/>
<path fill="#ff0000" d="M210 578h9v2h-9z"/>
<path fill="#00bfff" d="M201 576h4v2h-4z"/>
<path fill="#3838ff" d="M201 578h4v2h-4z"/>
<path fill="#00ffff" d="M219 578h4v2h-4z"/>
<path fill="#ffb6c1" d="M147 597h3v2h-3z"/>
<path fill="#ba55d3" d="M147 599h3v3h-3z"/>
<path fill="#ffb6c1" d="M154 595h3v4h-3z"/>
<path fill="#00bfff" d="M461 335h7v2h-7z"/>
<path fill="#ff0000" d="M461 337h7v2h-7z"/>
<path fill="#008000" d="M461 348h7v2h-7z"/>
<path fill="#ba55d3" d="M444 354h9v3h-9z"/>
<path fill="#00bfff" d="M444 361h9v2h-9zM461 361h7v6h-7zM453 367h8v2h-8z"/>
<path fill="#3838ff" d="M453 369h8v1h-8z"/>
<path fill="#00bfff" d="M453 370h8v4h-8z"/>
<path fill="#ba55d3" d="M461 369h7v1h-7z"/>
<path fill="#ff0000" d="M461 370h7v4h-7z"/>
<path fill="#00bfff" d="M444 372h9v6h-9z"/>
<path fill="#008000" d="M453 374h8v2h-8z"/>
<path fill="#ff0000" d="M453 376h8v2h-8z"/>
<path fill="#00bfff" d="M453 378h8v2h-8z"/>
<path fill="#008000" d="M461 378h7v2h-7z"/>
<path fill="#3838ff" d="M434 380h10v3h-10z"/>
<path fill="#00bfff" d="M444 380h9v2h-9z"/>
<path fill="#ff0000" d="M453 380h8v2h-8z"/>
<path fill="#00bfff" d="M461 380h7v2h-7z"/>
<path fill="#ff0000" d="M461 382h7v1h-7z"/>
<path fill="#ba55d3" d="M444 383h9v2h-9z"/>
<path fill="#00bfff" d="M453 382h8v3h-8zM461 383h7v2h-7zM444 385h9v4h-9z"/>
<path fill="#ba55d3" d="M453 385h8v2h-8z"/>
<path fill="#ff0000" d="M461 385h7v2h-7z"/>
<path fill="#ba55d3" d="M461 387h7v4h-7z"/>
<path fill="#00bfff" d="M453 389h8v2h-8z"/>
<path fill="#ba55d3" d="M444 389h9v2h-9z"/>
<path fill="#00bfff" d="M434 391h10v2h-10z"/>
<path fill="#3838ff" d="M444 391h9v4h-9zM453 391h8v2h-8z"/>
<path fill="#ba55d3" d="M434 393h10v2h-10z"/>
<path fill="#ff0000" d="M453 393h8v2h-8z"/>
<path fill="#00bfff" d="M434 395h10v3h-10zM444 398h9v2h-9zM444 398h9v4h-9z"/>
<path fill="#3838ff" d="M444 402h9v2h-9z"/>
<path fill="#00bfff" d="M453 402h8v2h-8z"/>
<path fill="#008000" d="M434 419h10v2h-10z"/>
<path fill="#ba55d3" d="M444 447h9v1h-9zM461 445h7v2h-7zM444 458h17v2h-17z"/>
<path fill="#ff0000" d="M461 458h7v2h-7z"/>
<path fill="#ba55d3" d="M434 460h10v1h-10zM461 460h7v1h-7z"/>
<path fill="#3838ff" d="M444 461h9v8h-9z"/>
<path fill="#ba55d3" d="M416 465h8v2h-8z"/>
<path fill="#3838ff" d="M434 467h10v2h-10z"/>
<path fill="#ba55d3" d="M461 467h7v2h-7zM434 469h19v2h-19zM444 471h17v2h-17zM453 473h8v1h-8zM461 474h7v1h-7zM444 470h17v3h-17zM453 472h8v2h-8zM461 474h7v6h-7zM434 476h10v10h-10zM444 478h9v4h-9zM453 478h8v2h-8zM453 484h8v2h-8zM444 487h9v4h-9zM434 489h10v2h-10z"/>
<path fill="#3838ff" d="M434 491h10v2h-10z"/>
<path fill="#ba55d3" d="M496 380h7v2h-7zM557 380h7v3h-7z"/>
<path fill="#ffb6c1" d="M557 383h7v2h-7z"/>
<path fill="#00bfff" d="M557 385h7v2h-7z"/>
<path fill="#ff0000" d="M564 383h6v2h-6zM564 393h6v2h-6z"/>
<path fill="#00bfff" d="M557 395h7v1h-7z"/>
<path fill="#ffb6c1" d="M564 396h6v4h-6z"/>
<path fill="#ff0000" d="M570 396h6v2h-6zM557 402h7v2h-7zM564 400h6v4h-6z"/>
<path fill="#008000" d="M550 406h7v3h-7z"/>
<path fill="#ff0000" d="M530 411h7v2h-7z"/>
<path fill="#008000" d="M550 413h7v2h-7z"/>
<path fill="#00bfff" d="M550 415h7v2h-7z"/>
<path fill="#ff0000" d="M550 417h7v4h-7z"/>
<path fill="#ba55d3" d="M564 413h6v2h-6z"/>
<path fill="#3838ff" d="M564 415h6v4h-6z"/>
<path fill="#ff0000" d="M564 424h6v2h-6z"/>
<path fill="#008000" d="M550 426h7v2h-7z"/>
<path fill="#00bfff" d="M550 428h7v2h-7z"/>
<path fill="#ba55d3" d="M523 426h14v2h-14z"/>
<path fill="#ff0000" d="M523 428h7v2h-7z"/>
<path fill="#00bfff" d="M523 430h7v2h-7z"/>
<path fill="#ba55d3" d="M530 430h7v2h-7z"/>
<path fill="#ff0000" d="M517 432h6v2h-6z"/>
<path fill="#00bfff" d="M523 435h7v4h-7z"/>
<path fill="#ff0000" d="M510 439h7v2h-7z"/>
<path fill="#ba55d3" d="M510 441h7v2h-7z"/>
<path fill="#00bfff" d="M510 443h7v2h-7z"/>
<path fill="#ff0000" d="M510 445h7v2h-7zM523 441h7v4h-7z"/>
<path fill="#ba55d3" d="M523 447h7v1h-7z"/>
<path fill="#ff0000" d="M544 441h6v2h-6z"/>
<path fill="#ffb6c1" d="M496 450h7v2h-7z"/>
<path fill="#ff0000" d="M530 450h7v2h-7z"/>
<path fill="#008000" d="M530 452h7v2h-7z"/>
<path fill="#00bfff" d="M496 265h7v1h-7zM496 289h7v2h-7z"/>
<path fill="#ff0000" d="M496 313h7v2h-7z"/>
<path fill="#00ffff" d="M564 270h6v2h-6z"/>
<path fill="#00bfff" d="M564 343h6v1h-6z"/>
<path fill="#ba55d3" d="M570 354h6v2h-6z"/>
<path fill="#00ffff" d="M597 170h7v2h-7z"/>
<path fill="#ba55d3" d="M666 185h11v2h-11z"/>
<path fill="#ffd700" d="M597 229h7v2h-7z"/>
<path fill="#ffb6c1" d="M597 231h7v1h-7z"/>
<path fill="#ffd700" d="M677 320h10v2h-10zM677 343h10v1h-10zM597 396h7v2h-7zM597 439h7v2h-7z"/>
<path fill="#ba55d3" d="M723 177h16v4h-16zM723 189h16v1h-16z"/>
<path fill="#ffb6c1" d="M723 190h16v2h-16z"/>
<path fill="#ba55d3" d="M710 205h13v2h-13z"/>
<path fill="#ffb6c1" d="M723 248h16v2h-16z"/>
<path fill="#ffd700" d="M723 285h16v2h-16z"/>
<path fill="#ba55d3" d="M761 307h17v2h-17z"/>
<path fill="#ffd700" d="M710 317h13v1h-13z"/>
<path fill="#00ffff" d="M761 335h17v2h-17z"/>
<path fill="#3838ff" d="M723 339h16v2h-16z"/>
<path fill="#ffb6c1" d="M723 341h16v2h-16z"/>
<path fill="#ba55d3" d="M723 376h16v2h-16z"/>
<path fill="#ffb6c1" d="M723 378h16v2h-16z"/>
<path fill="#3838ff" d="M723 443h16v2h-16z"/>
<path fill="#ffd700" d="M723 448h16v4h-16z"/>
<path fill="#3838ff" d="M761 456h17v2h-17z"/>
<path fill="#ba55d3" d="M723 534h16v3h-16z"/>
<path fill="#ffd700" d="M723 537h16v4h-16z"/>
<path fill="#ba55d3" d="M723 541h16v2h-16z"/>
<path fill="#00ffff" d="M723 546h16v3h-16z"/>
<path fill="#3838ff" d="M761 549h17v1h-17zM723 591h16v2h-16z"/>
<path fill="#ba55d3" d="M723 593h16v2h-16z"/>
<path fill="#ffd700" d="M723 595h16v2h-16z"/>
<path fill="#3838ff" d="M723 597h16v2h-16z"/>
<path fill="#ba55d3" d="M616 549h14v1h-14z"/>
<path fill="#ffd700" d="M698 517h11v2h-11z"/>
<path fill="#ba55d3" d="M677 666h10v1h-10z"/>
<path fill="#3838ff" d="M616 682h14v4h-14z"/>
<path fill="#ffd700" d="M616 690h14v3h-14z"/>
<path fill="#ba55d3" d="M616 701h14v2h-14zM616 716h14v2h-14z"/>
<path fill="#3838ff" d="M616 736h14v2h-14z"/>
<path fill="#ffd700" d="M723 692h16v1h-16z"/>
<path fill="#ba55d3" d="M723 641h16v2h-16zM723 647h16v4h-16z"/>
<path fill="#00bfff" d="M109 719h3v2h-3z"/>
<path fill="#ffd700" d="M109 721h3v4h-3z"/>
<path fill="#00ffff" d="M115 723h2v2h-2z"/>
<path fill="#ffd700" d="M117 723h2v2h-2z"/>
<path fill="#3838ff" d="M119 721h2v2h-2z"/>
<path fill="#ff0000" d="M119 723h2v2h-2z"/>
<path fill="#3838ff" d="M109 729h3v2h-3z"/>
<path fill="#ff0000" d="M109 731h3v1h-3z"/>
<path fill="#ffd700" d="M109 732h3v1h-3z"/>
<path fill="#3838ff" d="M109 733h3v2h-3z"/>
<path fill="#00ffff" d="M109 735h3v2h-3z"/>
<path fill="#ba55d3" d="M496 471h7v2h-7z"/>
<path fill="#ff0000" d="M258 480h4v2h-4z"/>
<path fill="#00bfff" d="M270 547h3v2h-3z"/>
<path fill="#008000" d="M270 549h3v1h-3zM266 552h7v2h-7z"/>
<path fill="#3838ff" d="M262 554h4v2h-4z"/>
<path fill="#008000" d="M270 554h3v4h-3zM266 556h4v2h-4z"/>
<path fill="#00bfff" d="M266 558h4v2h-4zM262 560h4v2h-4z"/>
<path fill="#008000" d="M266 560h4v2h-4zM262 562h4v1h-4z"/>
<path fill="#3838ff" d="M262 563h4v2h-4z"/>
<rect x="131" y="100" width="1" height="693" fill="#b0b0b0"/>
<rect x="223" y="100" width="1" height="693" fill="#b0b0b0"/>
<rect x="316" y="100" width="1" height="693" fill="#b0b0b0"/>
<rect x="408" y="100" width="1" height="693" fill="#b0b0b0"/>
<rect x="501" y="100" width="1" height="693" fill="#b0b0b0"/>
<rect x="593" y="100" width="1" height="693" fill="#b0b0b0"/>
<rect x="685" y="100" width="1" height="693" fill="#b0b0b0"/>
<rect x="85" y="669" width="693" height="1" fill="#b0b0b0"/>
<rect x="85" y="545" width="693" height="1" fill="#b0b0b0"/>
<rect x="85" y="421" width="693" height="1" fill="#b0b0b0"/>
<rect x="85" y="298" width="693" height="1" fill="#b0b0b0"/>
<rect x="85" y="174" width="693" height="1" fill="#b0b0b0"/>
<rect x="85" y="100" width="694" height="1" fill="#000"/>
<rect x="85" y="793" width="694" height="1" fill="#000"/>
<rect x="85" y="100" width="1" height="694" fill="#000"/>
<rect x="778" y="100" width="1" height="694" fill="#000"/>
<rect x="131" y="794" width="1" height="5" fill="#000"/>
<text x="131.5" y="814" font-size="13.9" text-anchor="middle">2</text>
<rect x="223" y="794" width="1" height="5" fill="#000"/>
<text x="223.5" y="814" font-size="13.9" text-anchor="middle">4</text>
<rect x="316" y="794" width="1" height="5" fill="#000"/>
<text x="316.5" y="814" font-size="13.9" text-anchor="middle">6</text>
<rect x="408" y="794" width="1" height="5" fill="#000"/>
<text x="408.5" y="814" font-size="13.9" text-anchor="middle">8</text>
<rect x="501" y="794" width="1" height="5" fill="#000"/>
<text x="501.5" y="814" font-size="13.9" text-anchor="middle">10</text>
<rect x="593" y="794" width="1" height="5" fill="#000"/>
<text x="593.5" y="814" font-size="13.9" text-anchor="middle">12</text>
<rect x="685" y="794" width="1" height="5" fill="#000"/>
<text x="685.5" y="814" font-size="13.9" text-anchor="middle">14</text>
<rect x="778" y="794" width="1" height="5" fill="#000"/>
<text x="778.5" y="814" font-size="13.9" text-anchor="middle">16</text>
<rect x="80" y="793" width="5" height="1" fill="#000"/>
<text x="74.8" y="798.5" font-size="13.9" text-anchor="end">0</text>
<rect x="80" y="669" width="5" height="1" fill="#000"/>
<text x="74.8" y="674.5" font-size="13.9" text-anchor="end">200</text>
<rect x="80" y="545" width="5" height="1" fill="#000"/>
<text x="74.8" y="550.5" font-size="13.9" text-anchor="end">400</text>
<rect x="80" y="421" width="5" height="1" fill="#000"/>
<text x="74.8" y="426.5" font-size="13.9" text-anchor="end">600</text>
<rect x="80" y="298" width="5" height="1" fill="#000"/>
<text x="74.8" y="303.5" font-size="13.9" text-anchor="end">800</text>
<rect x="80" y="174" width="5" height="1" fill="#000"/>
<text x="74.8" y="179.5" font-size="13.9" text-anchor="end">1000</text>
<text x="431" y="841" font-size="24" text-anchor="middle">Frequency (MHz)</text>
<text transform="translate(28.5,448) rotate(-90)" font-size="24" text-anchor="middle">Virtual height (km)</text>
<text x="418.5" y="31.5" font-size="28.9" text-anchor="middle">NAL CADI - Feb 06 22:00:00 2024 UTC</text>
<rect x="809" y="82" width="31" height="90" fill="#00bfff"/>
<rect x="809" y="172" width="31" height="90" fill="#00ffff"/>
<rect x="809" y="262" width="31" height="90" fill="#ffd700"/>
<rect x="809" y="352" width="31" height="90" fill="#ffb6c1"/>
<rect x="809" y="442" width="31" height="90" fill="#ba55d3"/>
<rect x="809" y="532" width="31" height="90" fill="#3838ff"/>
<rect x="809" y="622" width="31" height="90" fill="#ff0000"/>
<rect x="809" y="712" width="31" height="90" fill="#008000"/>
<rect x="809.5" y="82.5" width="30" height="720" fill="none" stroke="#000" stroke-width="1"/>
<rect x="840" y="82" width="3" height="1" fill="#000"/>
<rect x="840" y="172" width="3" height="1" fill="#000"/>
<rect x="840" y="262" width="3" height="1" fill="#000"/>
<rect x="840" y="352" width="3" height="1" fill="#000"/>
<rect x="840" y="442" width="3" height="1" fill="#000"/>
<rect x="840" y="532" width="3" height="1" fill="#000"/>
<rect x="840" y="622" width="3" height="1" fill="#000"/>
<rect x="840" y="712" width="3" height="1" fill="#000"/>
<rect x="840" y="802" width="3" height="1" fill="#000"/>
<rect x="840" y="127" width="5" height="1" fill="#000"/>
<text x="849" y="133.0" font-size="16.3">NNE</text>
<rect x="840" y="217" width="5" height="1" fill="#000"/>
<text x="849" y="223.0" font-size="16.3">E</text>
<rect x="840" y="307" width="5" height="1" fill="#000"/>
<text x="849" y="313.0" font-size="16.3">SSE</text>
<rect x="840" y="397" width="5" height="1" fill="#000"/>
<text x="849" y="403.0" font-size="16.3">SSW</text>
<rect x="840" y="487" width="5" height="1" fill="#000"/>
<text x="849" y="493.0" font-size="16.3">W</text>
<rect x="840" y="577" width="5" height="1" fill="#000"/>
<text x="849" y="583.0" font-size="16.3">NNW</text>
<rect x="840" y="667" width="5" height="1" fill="#000"/>
<text x="849" y="673.0" font-size="16.3">Vertical</text>
<rect x="840" y="757" width="5" height="1" fill="#000"/>
<text x="849" y="763.0" font-size="16.3">X-mode</text>
<text transform="translate(936,443) rotate(-90)" font-size="24" text-anchor="middle">Azimuth Direction</text>
</svg></body></html>
